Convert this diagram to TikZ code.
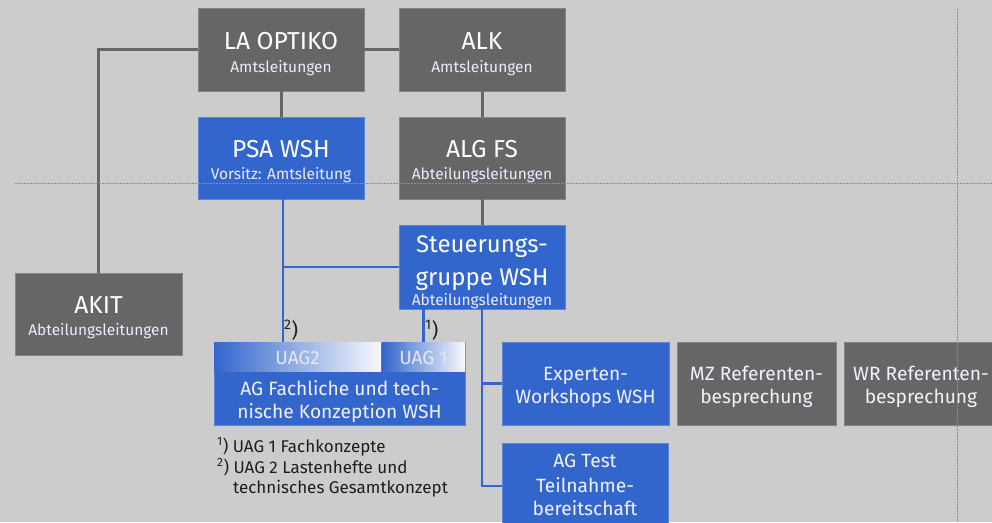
\documentclass[tikz,border=0pt]{standalone}
\usepackage{fontspec}
\setmainfont{Fira Sans}
\definecolor{bg}{HTML}{CCCCCC}
\definecolor{dk}{HTML}{666666}
\definecolor{bl}{HTML}{3366CC}
\definecolor{ft}{HTML}{1E1E1E}
\definecolor{uagtxt}{HTML}{E4E8F2}
\begin{document}
\begin{tikzpicture}[x=1pt,y=-1pt,
  dbox/.style={rectangle, inner sep=0pt, outer sep=0pt, anchor=north west, fill=dk, draw=dk!80!white, line width=0.8pt},
  bbox/.style={rectangle, inner sep=0pt, outer sep=0pt, anchor=north west, fill=bl, draw=bl!80!white, line width=0.8pt},
  ubox/.style={rectangle, inner sep=0pt, outer sep=0pt, anchor=north west, left color=bl, right color=white!96!bl},
  ttl/.style={text=white, font=\fontsize{24.5}{24.5}\selectfont, anchor=base, inner sep=0pt},
  big/.style={text=white, font=\fontsize{24}{24}\selectfont, anchor=base, inner sep=0pt},
  sub/.style={text=white!92!blue, font=\fontsize{15.5}{15.5}\selectfont, anchor=base, inner sep=0pt},
  mid/.style={text=white!95!blue, font=\fontsize{19.2}{19.2}\selectfont, anchor=base, inner sep=0pt},
  utx/.style={text=uagtxt, font=\fontsize{19}{19}\selectfont, anchor=base, inner sep=0pt},
  fnt/.style={text=ft, font=\fontsize{17}{17}\selectfont, anchor=base west, inner sep=0pt},
  mrk/.style={text=ft, font=\fontsize{20}{20}\selectfont, anchor=base west, inner sep=0pt},
  gline/.style={draw=dk, line width=3pt},
  bline/.style={draw=bl, line width=2.8pt},
  dotline/.style={draw=black!45, line width=0.8pt, dash pattern=on 2pt off 1pt}]
\useasboundingbox[fill=bg] (0,0) rectangle (992,522);
\clip (0,0) rectangle (992,522);
% boxes
\node[dbox, minimum width=166pt, minimum height=83pt] (la) at (198,8) {};
\node[dbox, minimum width=166pt, minimum height=83pt] (alk) at (399,8) {};
\node[bbox, minimum width=166pt, minimum height=82pt] (psa) at (198,117) {};
\node[dbox, minimum width=166pt, minimum height=82pt] (alg) at (399,117) {};
\node[bbox, minimum width=166pt, minimum height=84pt] (st) at (399,225) {};
\node[dbox, minimum width=167pt, minimum height=82pt] (akit) at (15,273) {};
\node[bbox, minimum width=251pt, minimum height=83pt] (ag) at (214,342) {};
\node[ubox, minimum width=167pt, minimum height=29pt] (uag2) at (214,342) {};
\node[ubox, minimum width=83pt, minimum height=29pt] (uag1) at (382,342) {};
\node[bbox, minimum width=167pt, minimum height=83pt] (exp) at (502,342) {};
\node[dbox, minimum width=159pt, minimum height=83pt] (mz) at (677,342) {};
\node[dbox, minimum width=156pt, minimum height=83pt] (wr) at (844,342) {};
\node[bbox, minimum width=166pt, minimum height=86pt] (agt) at (502,443) {};
% texts
\node[ttl] (laT) at (281,49) {LA OPTIKO};
\node[sub] (laS) at (281,72) {Amtsleitungen};
\node[ttl] (alkT) at (482,49) {ALK};
\node[sub] (alkS) at (482,72) {Amtsleitungen};
\node[ttl] (psaT) at (281,157) {PSA WSH};
\node[sub] (psaS) at (281,179) {Vorsitz: Amtsleitung};
\node[ttl] (algT) at (482,157) {ALG FS};
\node[sub] (algS) at (482,179) {Abteilungsleitungen};
\node[big] (stT1) at (482,252) {Steuerungs-};
\node[big] (stT2) at (482,285) {gruppe WSH};
\node[sub] (stS) at (482,305) {Abteilungsleitungen};
\node[ttl] (akitT) at (98.5,313) {AKIT};
\node[sub] (akitS) at (98.5,335) {Abteilungsleitungen};
\node[utx] (uag2T) at (297.5,364) {UAG2};
\node[utx] (uag1T) at (423.5,364) {UAG 1};
\node[mid] (agT1) at (339.5,395) {AG Fachliche und tech-};
\node[mid] (agT2) at (339.5,418) {nische Konzeption WSH};
\node[mid] (expT1) at (585.5,380) {Experten-};
\node[mid] (expT2) at (585.5,403) {Workshops WSH};
\node[mid] (mzT1) at (756.5,380) {MZ Referenten-};
\node[mid] (mzT2) at (756.5,403) {besprechung};
\node[mid] (wrT1) at (921,380) {WR Referenten-};
\node[mid] (wrT2) at (921,403) {besprechung};
\node[mid] (agtT1) at (585,467) {AG Test};
\node[mid] (agtT2) at (585,492) {Teilnahme-};
\node[mid] (agtT3) at (585,515) {bereitschaft};
% footnotes
\node[fnt] (fn1) at (217,452) {\textsuperscript{1}) UAG 1 Fachkonzepte};
\node[fnt] (fn2) at (217,473) {\textsuperscript{2}) UAG 2 Lastenhefte und};
\node[fnt] (fn3) at (233,493) {technisches Gesamtkonzept};
\node[mrk] (m2) at (284,337) {\textsuperscript{2})};
\node[mrk] (m1) at (425,337) {\textsuperscript{1})};
% connectors
\draw[gline] (la.east) -- (alk.west);
\draw[gline] (la.west) -| (akit.north);
\draw[gline] (la.south) -- (psa.north);
\draw[gline] (alk.south) -- (alg.north);
\draw[gline] (alg.south) -- (st.north);
\draw[bline] ([xshift=2pt]psa.south) -- ([xshift=2pt]psa.south |- uag2.north);
\draw[bline] (st.west) -- ([xshift=2pt]st.west -| psa.south);
\draw[bline] (uag1.north |- st.south) -- (uag1.north);
\draw[bline] (st.south) |- (exp.west);
\draw[bline] (st.south) |- (agt.west);
% guide lines
\draw[dotline] (15,183) -- (992,183);
\draw[dotline] (957,9) -- (957,522);
\end{tikzpicture}
\end{document}
